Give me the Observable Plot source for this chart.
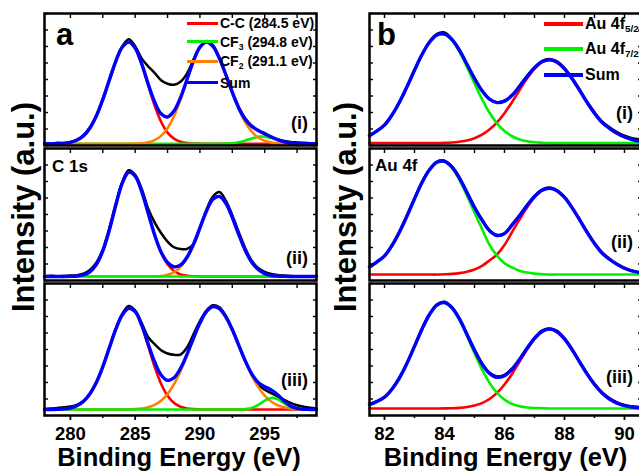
<!DOCTYPE html>
<html><head><meta charset="utf-8">
<script src="https://cdn.jsdelivr.net/npm/d3@7"></script>
<script src="https://cdn.jsdelivr.net/npm/@observablehq/plot@0.6"></script>
<style>
html,body{margin:0;padding:0;background:#fff;}
#wrap{position:relative;width:639px;height:473px;overflow:hidden;font-family:Arial,"Liberation Sans",Helvetica,sans-serif;font-weight:bold;color:#000;}
.t{position:absolute;white-space:nowrap;line-height:1;}
.sw{position:absolute;}
sub{font-size:0.62em;vertical-align:-0.35em;line-height:0;}
</style></head><body><div id="wrap"></div>
<script>
// ---------- DATA ----------
const facets = ["i", "ii", "iii"];
const facetLabels = ["(i)", "(ii)", "(iii)"];

// Panel a: C 1s, binding energy grid (eV)
const energyA = [278,278.5,279,279.5,280,280.5,281,281.5,282,282.5,283,283.5,284,284.5,285,285.5,286,286.5,287,287.5,288,288.5,289,289.5,290,290.5,291,291.5,292,292.5,293,293.5,294,294.5,295,295.5,296,296.5,297,297.5,298,298.5,299];
const baseA = [1.3, 3.0, 4.5];
// C-C component (above background)
const ccA_i   = [0,0,0.1,0.4,1.1,2.8,6.0,11.8,21.0,33.5,48.2,62.5,73.1,77.0,72.4,60.3,44.4,29.0,16.7,8.5,3.9,1.5,0.5,0.2,0.1,0,0,0,0,0,0,0,0,0,0,0,0,0,0,0,0,0,0];
const ccA_ii  = [0,0,0,0,0.1,0.4,1.2,3.6,9.1,19.4,35.0,53.8,70.7,79.0,76.1,64.5,48.1,31.6,18.2,9.3,4.2,1.6,0.6,0.2,0.05,0,0,0,0,0,0,0,0,0,0,0,0,0,0,0,0,0,0];
const ccA_iii = [0,0.05,0.2,0.5,1.2,2.9,6.1,11.8,20.5,32.4,46.6,60.7,71.6,76.6,74.0,63.4,48.2,32.6,19.5,10.4,4.9,2.1,0.8,0.3,0.1,0,0,0,0,0,0,0,0,0,0,0,0,0,0,0,0,0,0];
// CF2 component
const cf2A_i   = [0,0,0,0,0,0,0,0,0,0,0,0,0,0,0.1,0.4,1.1,2.8,6.0,11.8,21.0,33.5,48.2,62.5,73.1,77.0,73.8,64.8,52.2,38.5,26.1,16.2,9.2,4.8,2.3,1.0,0.4,0.15,0.05,0,0,0,0];
const cf2A_ii  = [0,0,0,0,0,0,0,0,0,0,0,0,0,0,0,0,0.05,0.1,0.4,1.3,3.2,7.1,14.0,24.2,36.9,49.5,58.5,60.7,55.5,44.7,31.7,19.8,10.8,5.3,2.2,0.8,0.3,0.1,0,0,0,0,0];
const cf2A_iii = [0,0,0,0,0,0,0,0,0,0,0,0,0,0.1,0.3,0.8,1.7,3.6,6.7,11.7,19.2,29.1,41.0,53.7,65.4,74.1,78.0,76.5,70.2,60.4,48.6,36.6,25.9,17.0,10.6,6.1,3.3,1.7,0.8,0.4,0.15,0.1,0];
// CF3 component
const cf3A_i   = [0,0,0,0,0,0,0,0,0,0,0,0,0,0,0,0,0,0,0,0,0,0,0,0,0,0,0,0,0.1,0.4,1.1,2.4,4.0,5.3,5.4,4.3,2.7,1.3,0.5,0.1,0,0,0];
const cf3A_ii  = [0,0,0,0,0,0,0,0,0,0,0,0,0,0,0,0,0,0,0,0,0,0,0,0,0,0,0,0,0,0,0,0,0,0,0,0,0,0,0,0,0,0,0];
const cf3A_iii = [0,0,0,0,0,0,0,0,0,0,0,0,0,0,0,0,0,0,0,0,0,0,0,0,0,0,0.0,0,0,0,0.05,0.3,1.2,3.5,6.7,8.8,7.9,4.7,1.9,0.5,0.1,0,0];
// measured spectra (black)
const dataA_i   = [1.8,1.5,2.0,1.7,2.6,4.0,7.5,13.6,22.5,35.2,49.0,63.5,75.0,80.5,75.2,66.0,60.0,55.0,49.5,46.8,46.0,48.3,54.5,65.0,74.5,79.2,76.0,66.5,54.0,40.5,29.0,20.5,15.0,11.5,8.6,6.3,4.6,3.4,2.6,2.3,2.0,1.8,1.6];
const dataA_ii  = [3.2,3.6,3.3,3.5,3.8,4.0,5.2,8.0,13.5,23.5,39.5,58.0,74.5,83.5,80.0,69.5,54.5,44.0,36.0,29.5,25.2,23.8,24.0,27.5,39.5,53.5,63.5,67.0,60.5,49.5,36.5,24.5,15.0,9.5,6.5,5.0,4.2,3.8,3.5,3.0,2.8,3.0,2.7];
const dataA_iii = [5.0,5.3,5.6,6.3,6.8,8.0,11.0,16.5,25.0,37.0,51.5,65.5,77.0,83.0,79.5,70.0,59.5,54.0,49.5,47.0,46.0,46.2,51.5,61.5,71.5,79.5,83.5,82.0,75.5,65.5,53.5,41.5,31.0,23.5,19.5,17.0,14.5,11.8,9.5,7.8,6.6,5.8,5.3];
const majorTicksA = [280, 285, 290, 295];
const minorTicksA = [282.5, 287.5, 292.5, 297.5];
const allTicksA = [280, 282.5, 285, 287.5, 290, 292.5, 295, 297.5];
const legendA = [
  {name: "C-C", sub: "", rest: " (284.5 eV)"},
  {name: "CF", sub: "3", rest: " (294.8 eV)"},
  {name: "CF", sub: "2", rest: " (291.1 eV)"},
  {name: "Sum", sub: "", rest: ""}
];

// Panel b: Au 4f
const energyB = [81.5,81.75,82,82.25,82.5,82.75,83,83.25,83.5,83.75,84,84.25,84.5,84.75,85,85.25,85.5,85.75,86,86.25,86.5,86.75,87,87.25,87.5,87.75,88,88.25,88.5,88.75,89,89.25,89.5,89.75,90,90.25,90.5];
const baseB = [1.8, 4.5, 5.3];
const au72B_i   = [5.6,9.3,13.6,21.2,31.1,42.7,55.2,67.1,76.4,81.9,82.4,77.9,69.1,57.7,45.2,33.3,23.0,15.0,9.1,5.2,2.8,1.4,0.7,0.3,0,0,0,0,0,0,0,0,0,0,0,0,0];
const au72B_ii  = [5.8,9.7,14.1,22.0,32.3,44.4,57.3,69.7,79.4,85.1,85.6,80.9,71.8,59.9,47.0,34.6,22.5,14.4,8.6,5.4,2.9,1.5,0.7,0.3,0,0,0,0,0,0,0,0,0,0,0,0,0];
const au72B_iii = [3.0,5.3,8.5,14.6,23.2,34.3,47.1,60.1,71.2,78.4,80.2,76.1,67.2,55.0,41.9,29.6,19.4,11.8,6.7,3.5,1.7,0.8,0.4,0.2,0,0,0,0,0,0,0,0,0,0,0,0,0];
const au52B_i   = [0,0,0,0,0,0,0,0,0,0,0.2,0.5,1.1,2.0,3.7,6.4,10.3,15.7,22.7,31.0,40.1,48.9,56.3,61.3,63.1,61.3,56.3,48.9,40.1,31.0,22.7,15.7,11.2,7.4,4.6,2.7,1.5];
const au52B_ii  = [0,0,0,0,0,0,0,0,0,0,0.2,0.5,1.1,2.1,3.8,6.6,10.7,15.2,22.4,32.1,41.6,50.7,58.4,63.5,65.4,63.5,58.4,50.7,41.6,32.1,23.5,16.3,11.6,7.7,4.8,2.8,1.6];
const au52B_iii = [0,0,0,0,0,0,0,0,0,0,0.1,0.2,0.5,1.1,2.2,4.1,7.2,11.8,18.2,26.2,35.4,44.6,52.7,58.2,60.2,58.2,52.7,44.6,35.4,26.2,18.2,11.8,7.2,4.1,2.2,1.1,0.5];
const dataB_i   = [7.6,11.0,15.8,23.4,32.6,44.9,57.4,68.6,78.8,84.6,85.6,80.6,72.6,61.2,51.2,41.9,35.0,32.8,34.0,37.6,45.2,52.6,59.2,64.0,65.6,63.8,58.6,51.2,42.5,33.2,25.1,18.3,13.8,10.1,7.4,5.6,4.6];
const dataB_ii  = [9.8,13.9,18.5,26.8,37.2,49.5,62.3,74.6,84.3,90.0,90.8,86.4,78.0,67.1,55.8,46.2,38.2,34.5,35.8,42.3,49.4,57.1,64.0,68.8,70.4,68.4,63.3,55.6,46.5,37.0,28.4,21.3,16.5,12.6,9.6,7.4,6.0];
const dataB_iii = [8.6,10.9,14.2,20.3,28.9,39.8,52.8,65.8,76.9,84.2,86.2,82.0,73.5,61.8,49.9,39.5,32.4,29.6,30.8,35.6,42.8,51.2,58.9,64.3,66.0,64.1,58.5,50.4,41.2,32.0,24.0,17.7,13.1,10.0,8.0,6.9,6.4];
const majorTicksB = [82, 84, 86, 88, 90];
const minorTicksB = [83, 85, 87, 89];
const allTicksB = [82, 83, 84, 85, 86, 87, 88, 89, 90];
const legendB = [
  {name: "Au 4f", sub: "5/2", rest: ""},
  {name: "Au 4f", sub: "7/2", rest: ""},
  {name: "Sum", sub: "", rest: ""}
];
const yTicks = [0, 12.5, 25, 37.5, 50, 62.5, 75, 87.5, 100];

// ---------- STYLE ----------
const FONT = 'Arial, "Liberation Sans", Helvetica, sans-serif';
const RED = "#ff0000", GREEN = "#00f000", ORANGE = "#ff8000", BLUE = "#0000ff", BLACK = "#000000";

// ---------- BUILD ----------
const wrap = document.getElementById("wrap");

function comp(xs, vals, s, base) { return xs.map((x, k) => ({s, x, y: base + vals[k]})); }
function raw(xs, vals, s) { return xs.map((x, k) => ({s, x, y: vals[k]})); }
function total(xs, list, s, base) { return xs.map((x, k) => ({s, x, y: base + list.reduce((a, v) => a + v[k], 0)})); }
function line(data, stroke, w) {
  return Plot.line(data, {x: "x", y: "y", fy: "s", stroke, strokeWidth: w, curve: "catmull-rom", strokeLinejoin: "round"});
}

function panel({xs, specs, domain, width, marginLeft, marginRight, major, minor, all}) {
  const marks = [];
  specs.forEach(sp => {
    marks.push(line(raw(xs, sp.data, sp.s), BLACK, 2.5));
    sp.order.forEach(c => marks.push(line(comp(xs, c.vals, sp.s, sp.base), c.color, 2.6)));
    marks.push(line(total(xs, sp.order.map(c => c.vals), sp.s, sp.base), BLUE, 3.4));
  });
  marks.push(Plot.frame({stroke: BLACK, strokeWidth: 2.5}));
  marks.push(Plot.axisY({anchor: "left", ticks: yTicks, tickSize: -4, tickFormat: () => "", label: null, strokeWidth: 1.4}));
  marks.push(Plot.axisY({anchor: "right", ticks: yTicks, tickSize: -4, tickFormat: () => "", label: null, strokeWidth: 1.4}));
  marks.push(Plot.axisX({anchor: "top", ticks: all, tickSize: -4, tickFormat: () => "", label: null, strokeWidth: 1.4, facetAnchor: null}));
  marks.push(Plot.axisX({anchor: "bottom", ticks: minor, tickSize: 3, tickFormat: () => "", label: null, strokeWidth: 1.6}));
  marks.push(Plot.axisX({anchor: "bottom", ticks: major, tickSize: 5, tickPadding: 6, tickFormat: d => String(d), label: null, strokeWidth: 1.8, fontSize: 18.5, fontWeight: "bold"}));
  return Plot.plot({
    width, height: 473,
    marginTop: 13, marginBottom: 57, marginLeft, marginRight,
    x: {domain, axis: null},
    y: {domain: [0, 100], axis: null},
    fy: {domain: facets, axis: null, paddingInner: 0.022, paddingOuter: 0},
    style: {fontFamily: FONT, background: "transparent", overflow: "visible", color: "#000"},
    marks
  });
}

const svgA = panel({
  xs: energyA, domain: [278, 299], width: 320, marginLeft: 44, marginRight: 4,
  major: majorTicksA, minor: minorTicksA, all: allTicksA,
  specs: [
    {s: "i", base: baseA[0], data: dataA_i, order: [{vals: ccA_i, color: RED}, {vals: cf3A_i, color: GREEN}, {vals: cf2A_i, color: ORANGE}]},
    {s: "ii", base: baseA[1], data: dataA_ii, order: [{vals: ccA_ii, color: RED}, {vals: cf2A_ii, color: ORANGE}, {vals: cf3A_ii, color: GREEN}]},
    {s: "iii", base: baseA[2], data: dataA_iii, order: [{vals: ccA_iii, color: RED}, {vals: cf2A_iii, color: ORANGE}, {vals: cf3A_iii, color: GREEN}]}
  ]
});
const svgB = panel({
  xs: energyB, domain: [81.5, 90.567], width: 316, marginLeft: 44, marginRight: 0,
  major: majorTicksB, minor: minorTicksB, all: allTicksB,
  specs: [
    {s: "i", base: baseB[0], data: dataB_i, order: [{vals: au52B_i, color: RED}, {vals: au72B_i, color: GREEN}]},
    {s: "ii", base: baseB[1], data: dataB_ii, order: [{vals: au52B_ii, color: RED}, {vals: au72B_ii, color: GREEN}]},
    {s: "iii", base: baseB[2], data: dataB_iii, order: [{vals: au52B_iii, color: RED}, {vals: au72B_iii, color: GREEN}]}
  ]
});

function holder(el, left) {
  const d = document.createElement("div");
  d.style.cssText = `position:absolute;left:${left}px;top:0;`;
  el.style.maxWidth = "none";
  d.appendChild(el);
  wrap.appendChild(d);
}
holder(svgA, 0);
holder(svgB, 325);

// text helper: baseline-based placement (line-height 1 → baseline ≈ top + 0.85·size)
function text(html, {left, right, baseline, size, cx}) {
  const d = document.createElement("div");
  d.className = "t";
  d.innerHTML = html;
  d.style.fontSize = size + "px";
  d.style.top = (baseline - 0.85 * size) + "px";
  if (cx != null) { d.style.left = cx + "px"; d.style.transform = "translateX(-50%)"; }
  else if (right != null) d.style.right = right + "px";
  else d.style.left = left + "px";
  wrap.appendChild(d);
  return d;
}
function swatch(left, y, w, h, color) {
  const d = document.createElement("div");
  d.className = "sw";
  d.style.cssText += `left:${left}px;top:${y - h / 2}px;width:${w}px;height:${h}px;background:${color};`;
  wrap.appendChild(d);
}

// panel letters and element tags
text("a", {left: 56, baseline: 45, size: 31});
text("b", {left: 377, baseline: 45, size: 31});
text("C 1s", {left: 52, baseline: 172, size: 17});
text("Au 4f", {left: 375, baseline: 171, size: 17});

// facet labels
const labBaseA = [129, 264, 386], labBaseB = [119.5, 248.5, 383];
facetLabels.forEach((lab, k) => {
  text(lab, {right: 639 - 308, baseline: labBaseA[k], size: 18});
  text(lab, {right: 639 - 633, baseline: labBaseB[k], size: 18});
});

// legends
const legColA = [RED, GREEN, ORANGE, BLUE], legYA = [23.3, 41.7, 61, 82.7];
legendA.forEach((e, k) => {
  swatch(187, legYA[k], 31, 3, legColA[k]);
  text(e.name + (e.sub ? `<sub>${e.sub}</sub>` : "") + e.rest, {left: 220, baseline: legYA[k] + 5, size: 14});
});
const legColB = [RED, GREEN, BLUE], legYB = [24, 49, 75];
legendB.forEach((e, k) => {
  swatch(544, legYB[k], 39, 3.5, legColB[k]);
  text(e.name + (e.sub ? `<sub>${e.sub}</sub>` : "") + e.rest, {left: 585, baseline: legYB[k] + 6, size: 16});
});

// axis titles
text("Binding Energy (eV)", {cx: 179, baseline: 466.5, size: 25.5});
text("Binding Energy (eV)", {cx: 505.5, baseline: 466.5, size: 25.5});
function ylab(cx) {
  const d = document.createElement("div");
  d.className = "t";
  d.textContent = "Intensity (a.u.)";
  d.style.cssText += `font-size:31px;left:${cx}px;top:207px;transform:translate(-50%,-50%) rotate(-90deg);`;
  wrap.appendChild(d);
}
ylab(23);
ylab(345);
</script></body></html>
